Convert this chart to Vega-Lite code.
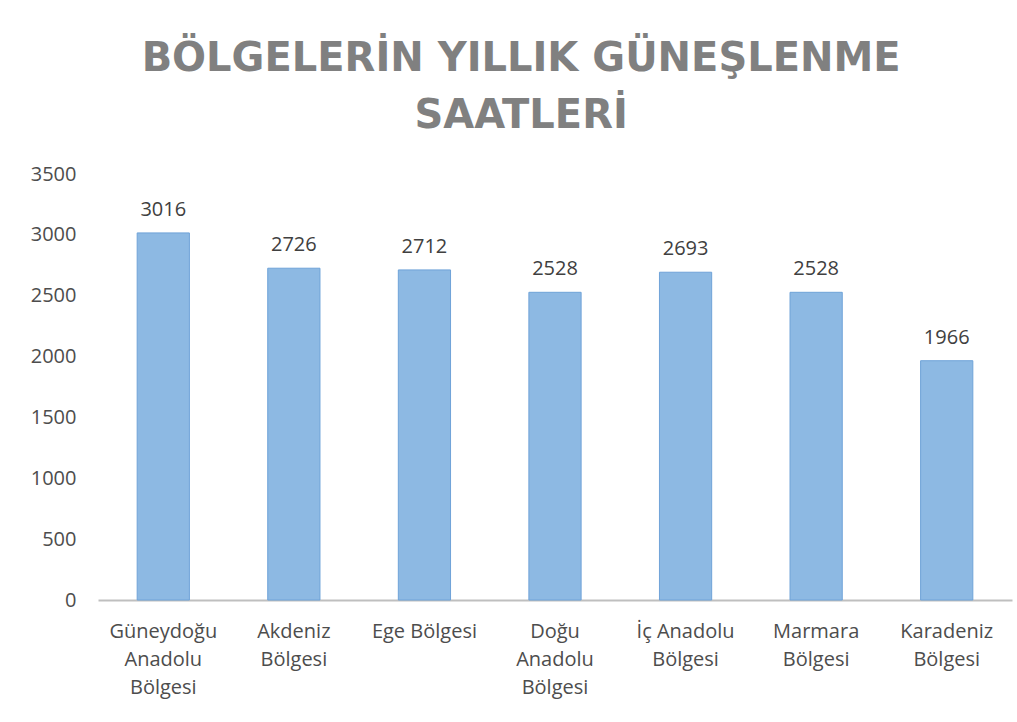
{
  "$schema": "https://vega.github.io/schema/vega-lite/v6.json",
  "autosize": "none",
  "width": 914,
  "height": 426,
  "padding": {"left": 98, "top": 174, "right": 5, "bottom": 122},
  "background": "white",
  "title": {
    "text": ["BÖLGELERİN YILLIK GÜNEŞLENME", "SAATLERİ"],
    "font": "DejaVu Sans",
    "fontSize": 40,
    "fontWeight": "bold",
    "color": "#808080",
    "lineHeight": 57,
    "anchor": "middle",
    "frame": "bounds",
    "offset": 28
  },
  "data": {
    "values": [
      {"bolge": "Güneydoğu|Anadolu|Bölgesi", "saat": 3016, "o": 1},
      {"bolge": "Akdeniz|Bölgesi", "saat": 2726, "o": 2},
      {"bolge": "Ege Bölgesi", "saat": 2712, "o": 3},
      {"bolge": "Doğu|Anadolu|Bölgesi", "saat": 2528, "o": 4},
      {"bolge": "İç Anadolu|Bölgesi", "saat": 2693, "o": 5},
      {"bolge": "Marmara|Bölgesi", "saat": 2528, "o": 6},
      {"bolge": "Karadeniz|Bölgesi", "saat": 1966, "o": 7}
    ]
  },
  "encoding": {
    "x": {
      "field": "bolge",
      "type": "nominal",
      "sort": {"field": "o", "order": "ascending"},
      "scale": {"paddingInner": 0.6, "paddingOuter": 0.3},
      "axis": {
        "title": null,
        "labelAngle": 0,
        "labelExpr": "split(datum.label, '|')",
        "labelFont": "Open Sans",
        "labelFontSize": 20,
        "labelColor": "#4d4d4d",
        "labelLineHeight": 28,
        "labelPadding": 21,
        "ticks": false,
        "domainColor": "#bfbfbf",
        "domainWidth": 2,
        "grid": false
      }
    },
    "y": {
      "field": "saat",
      "type": "quantitative",
      "scale": {"domain": [0, 3500]},
      "axis": {
        "title": null,
        "format": "d",
        "values": [0, 500, 1000, 1500, 2000, 2500, 3000, 3500],
        "labelFont": "Open Sans",
        "labelFontSize": 20,
        "labelColor": "#4d4d4d",
        "labelPadding": 22,
        "ticks": false,
        "domain": false,
        "grid": false
      }
    }
  },
  "layer": [
    {"mark": {"type": "bar", "color": "#8db9e3", "stroke": "#6fa3d8", "strokeWidth": 1}},
    {
      "mark": {"type": "text", "baseline": "bottom", "dy": -13, "font": "Open Sans", "fontSize": 20, "color": "#404040"},
      "encoding": {"text": {"field": "saat", "type": "quantitative"}}
    }
  ],
  "config": {"view": {"stroke": null}}
}
